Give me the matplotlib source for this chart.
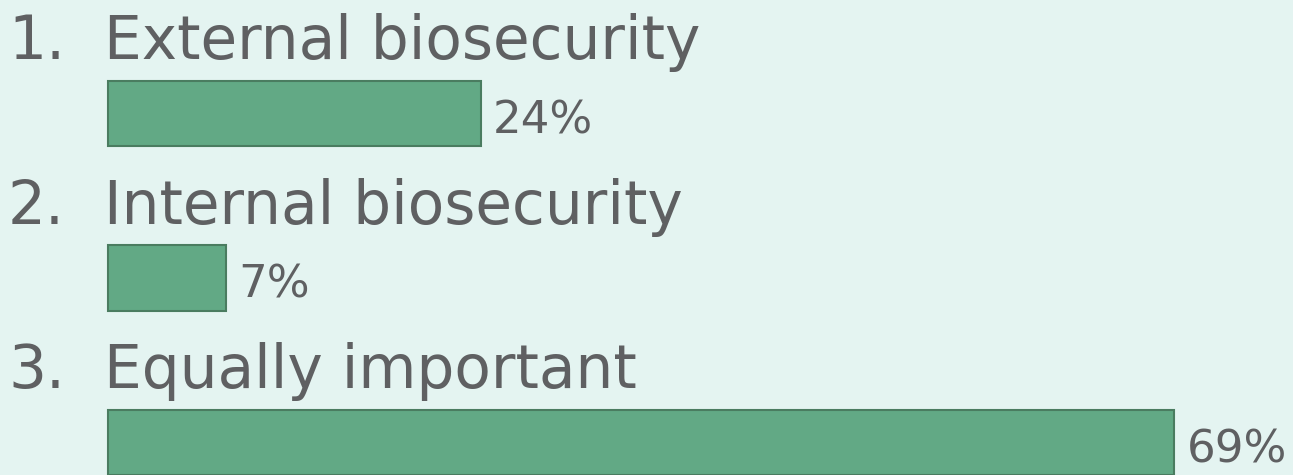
import matplotlib.pyplot as plt
import numpy as np

# data
numbers = ["1.", "2.", "3."]
options = ["External biosecurity", "Internal biosecurity", "Equally important"]
shares = [24.1, 7.6, 69.0]          # bar lengths, %
share_labels = ["24%", "7%", "69%"]

bg = "#e4f4f1"
bar_col = "#62a985"
edge_col = "#4a7c60"
txt_col = "#5f6062"

fig = plt.figure(figsize=(12.93, 4.75), dpi=100, facecolor=bg)
ax = fig.add_axes([0, 0, 1, 1])
ax.set_facecolor(bg)

y = np.arange(len(options))
ax.barh(y, shares, height=0.40, left=0, color=bar_col, edgecolor=edge_col,
        linewidth=1.5)

for i in range(len(options)):
    ax.text(-6.5, y[i] - 0.331, numbers[i], fontsize=43, color=txt_col,
            ha="left", va="baseline")
    ax.text(-0.3, y[i] - 0.331, options[i], fontsize=43, color=txt_col,
            ha="left", va="baseline")
    ax.text(shares[i] + 0.8, y[i] + 0.119, share_labels[i], fontsize=32.5,
            color=txt_col, ha="left", va="baseline")

ax.set_xlim(-7.02, 76.67)
ax.set_ylim(2.198, -0.690)
ax.axis("off")

fig.savefig("out.png", dpi=100, facecolor=bg)
